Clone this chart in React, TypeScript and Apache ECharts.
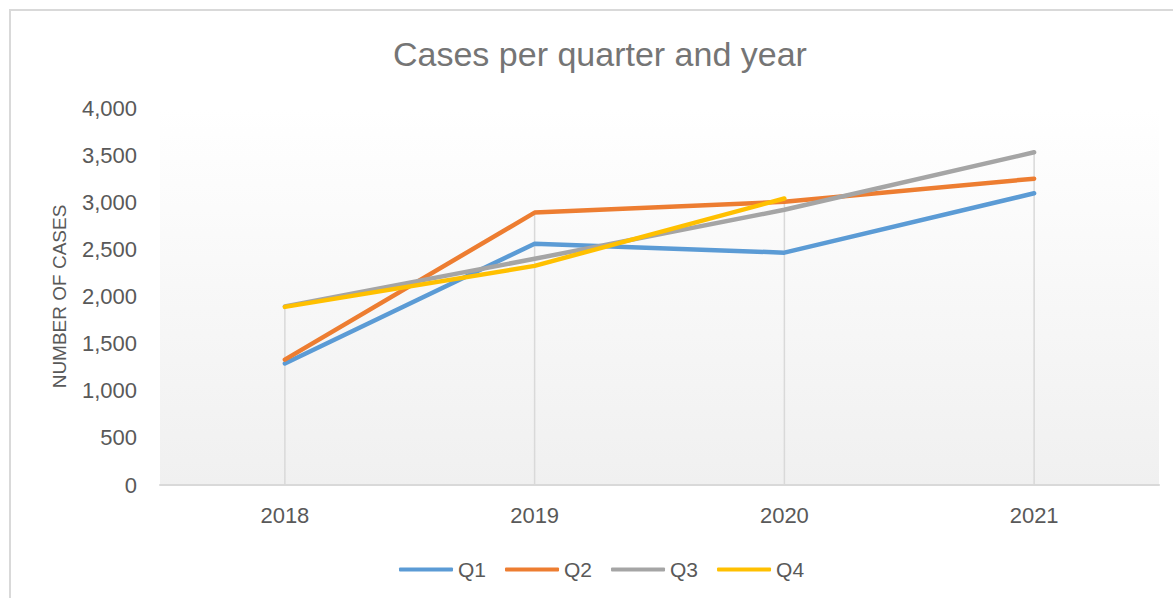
import React, { useEffect, useRef } from "react";
import * as echarts from "echarts";

const years = ["2018", "2019", "2020", "2021"];
const q1 = [1290, 2560, 2465, 3095];
const q2 = [1330, 2890, 3005, 3250];
const q3 = [1895, 2400, 2920, 3530];
const q4: (number | null)[] = [1890, 2325, 3040, null];
const seriesNames = ["Q1", "Q2", "Q3", "Q4"];
const seriesColors = ["#5B9BD5", "#ED7D31", "#A5A5A5", "#FFC000"];
const titleText = "Cases per quarter and year";
const yAxisTitle = "NUMBER OF CASES";

const FONT = "'Liberation Sans', Arial, sans-serif";

export default function App() {
  const ref = useRef<HTMLDivElement>(null);
  useEffect(() => {
    if (!ref.current) return;
    const chart = echarts.init(ref.current, undefined, { renderer: "svg" });
    const all = [q1, q2, q3, q4];
    const dropData = years.map((_, i) => {
      const vals = all.map((s) => s[i]).filter((v) => v !== null) as number[];
      return [i, Math.max(...vals)];
    });
    chart.setOption({
      animation: false,
      backgroundColor: "#ffffff",
      textStyle: { fontFamily: FONT },
      graphic: [
        {
          type: "rect",
          silent: true,
          z: -10,
          shape: { x: 10, y: 10, width: 1400, height: 800 },
          style: { fill: "none", stroke: "#d9d9d9", lineWidth: 2 },
        },
      ],
      title: {
        text: titleText,
        left: 388,
        top: 32,
        textStyle: {
          fontFamily: FONT,
          fontSize: 34,
          fontWeight: "normal",
          color: "#757575",
        },
      },
      legend: {
        data: seriesNames,
        left: 394,
        top: 554,
        icon: "roundRect",
        itemWidth: 54,
        itemHeight: 4,
        itemGap: 19,
        textStyle: { fontFamily: FONT, fontSize: 21, color: "#595959", padding: [0, 0, 0, 0] },
      },
      grid: {
        left: 160,
        right: 14,
        top: 108,
        bottom: 113,
        show: true,
        borderWidth: 0,
        backgroundColor: new echarts.graphic.LinearGradient(0, 0, 0, 1, [
          { offset: 0, color: "#ffffff" },
          { offset: 1, color: "#f0f0f0" },
        ]),
      },
      xAxis: {
        type: "category",
        data: years,
        boundaryGap: true,
        axisLine: { show: true, lineStyle: { color: "#d9d9d9", width: 2 } },
        axisTick: { show: false },
        splitLine: { show: false },
        axisLabel: { fontFamily: FONT, fontSize: 22, color: "#595959", margin: 19 },
      },
      yAxis: {
        type: "value",
        min: 0,
        max: 4000,
        interval: 500,
        name: yAxisTitle,
        nameLocation: "middle",
        nameGap: 91,
        nameTextStyle: { fontFamily: FONT, fontSize: 19, color: "#595959" },
        axisLine: { show: false },
        axisTick: { show: false },
        splitLine: { show: false },
        axisLabel: {
          fontFamily: FONT,
          fontSize: 22,
          color: "#595959",
          margin: 23,
          formatter: (v: number) => v.toLocaleString("en-US"),
        },
      },
      series: [
        {
          type: "custom",
          name: "drop",
          z: 1,
          silent: true,
          data: dropData,
          renderItem: (params: any, api: any) => {
            const x = api.value(0);
            const top = api.coord([x, api.value(1)]);
            const bottom = api.coord([x, 0]);
            return {
              type: "line",
              shape: { x1: top[0], y1: top[1], x2: bottom[0], y2: bottom[1] },
              style: { stroke: "#d9d9d9", lineWidth: 1.5 },
            };
          },
        },
        ...all.map((d, i) => ({
          type: "line",
          name: seriesNames[i],
          data: d,
          z: 3 + i,
          symbol: "none",
          showSymbol: false,
          connectNulls: false,
          color: seriesColors[i],
          lineStyle: { color: seriesColors[i], width: 4.5, cap: "round", join: "round" },
        })),
      ],
    });
    return () => chart.dispose();
  }, []);
  return (
    <div
      ref={ref}
      style={{ position: "fixed", left: 0, top: 0, width: 1173, height: 598 }}
    />
  );
}
